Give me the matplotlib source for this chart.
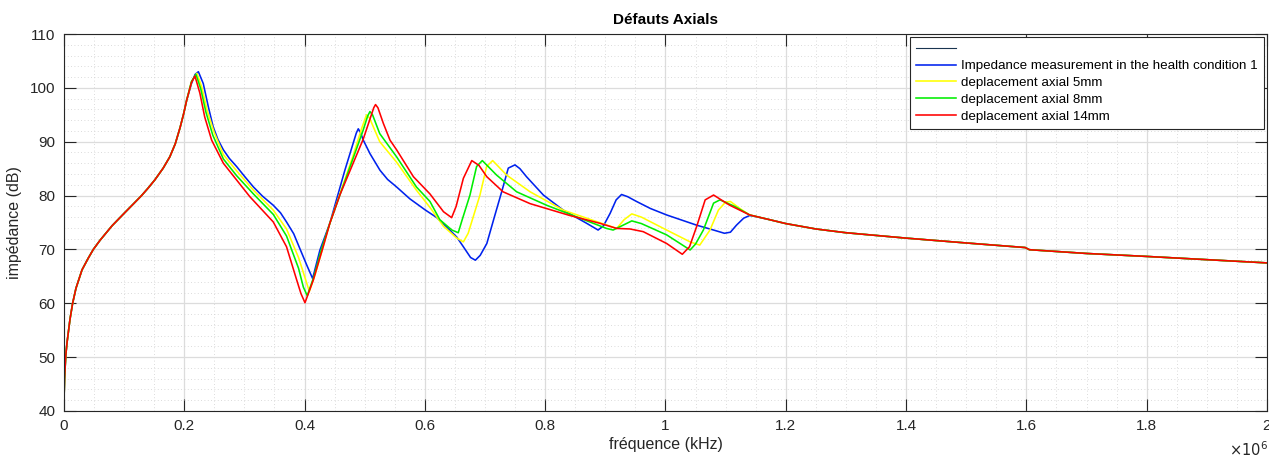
import numpy as np
import matplotlib
matplotlib.use("Agg")
import matplotlib.pyplot as plt
from matplotlib.ticker import MultipleLocator, FuncFormatter

plt.rcParams['font.family'] = ['Liberation Sans', 'DejaVu Sans']

# frequencies in MHz (axis is x10^6), impedance in dB
head_f = [0, 0.001, 0.003, 0.005, 0.01, 0.0144, 0.02, 0.03, 0.04, 0.0488, 0.06,
          0.08, 0.1, 0.115, 0.129, 0.14, 0.151, 0.165, 0.176, 0.185, 0.193, 0.199, 0.204]
head_v = [41.5, 46, 50.3, 52.6, 57, 60, 62.8, 66.2, 68.3, 70, 71.7,
          74.4, 76.7, 78.4, 80, 81.4, 82.9, 85.1, 87.2, 89.6, 92.6, 95.2, 97.7]

tail_f = [1.2, 1.25, 1.3, 1.4, 1.5, 1.598, 1.605, 1.7, 1.8, 1.9, 2.0]
tail_v = [74.8, 73.8, 73.1, 72.1, 71.2, 70.35, 69.95, 69.25, 68.7, 68.1, 67.5]

blue_f = [0.212, 0.218, 0.2235, 0.2316, 0.240, 0.248, 0.256, 0.265, 0.275, 0.287, 0.30,
          0.315, 0.33, 0.348, 0.36, 0.37, 0.382, 0.392, 0.404, 0.4134, 0.4256, 0.442,
          0.453, 0.467, 0.478, 0.486, 0.4893, 0.493, 0.4976, 0.5087, 0.5254, 0.538, 0.553,
          0.575, 0.601, 0.62, 0.636, 0.653, 0.664, 0.676, 0.684, 0.692, 0.703, 0.715,
          0.7277, 0.7387, 0.7498, 0.758, 0.769, 0.797, 0.830, 0.869, 0.888, 0.897, 0.908,
          0.918, 0.927, 0.937, 0.952, 0.975, 1.002, 1.052, 1.08, 1.098, 1.108, 1.118,
          1.130, 1.140, 1.150, 1.174]
blue_v = [100.8, 102.5, 103, 100.8, 96.5, 92.8, 90.4, 88.5, 86.9, 85.4, 83.6,
          81.6, 79.9, 78.2, 76.8, 75.1, 72.9, 70.2, 67, 64.6, 69.9, 74.85,
          79.2, 84.7, 88.7, 91.6, 92.4, 91.7, 90.3, 87.8, 84.7, 83.0, 81.6,
          79.4, 77.3, 75.9, 74.2, 72.3, 70.5, 68.5, 68.0, 68.9, 71.1, 75.8,
          80.7, 85.1, 85.7, 85.0, 83.5, 80.1, 77.3, 74.85, 73.6, 74.4, 76.7,
          79.2, 80.2, 79.8, 78.9, 77.6, 76.4, 74.5, 73.6, 73.0, 73.2, 74.5,
          75.8, 76.3, 76.1, 75.5]

yellow_f = [0.212, 0.221, 0.229, 0.238, 0.2495, 0.265, 0.287, 0.315, 0.348, 0.37,
            0.39, 0.40, 0.408, 0.418, 0.43, 0.442, 0.46, 0.48, 0.495, 0.503,
            0.508, 0.525, 0.553, 0.586, 0.6085, 0.631, 0.652, 0.664, 0.672, 0.6916, 0.7027,
            0.7127, 0.736, 0.775, 0.830, 0.869, 0.919, 0.931, 0.944, 0.96, 1.002,
            1.041, 1.057, 1.074, 1.088, 1.1, 1.108, 1.125, 1.14, 1.174]
yellow_v = [101.1, 102.7, 100.2, 95.8, 91.8, 87.6, 84.6, 81, 77.3, 73.8,
            68.5, 65, 62.2, 65.5, 70.2, 74.85, 80.7, 87.2, 92.5, 95,
            94.4, 90, 86.2, 81.0, 77.8, 74.3, 72.2, 71.4, 73, 80.1, 85.4,
            86.5, 83.8, 80.7, 77.3, 75.8, 73.9, 75.5, 76.6, 76.0, 73.6,
            71.4, 70.8, 73.6, 77.3, 78.8, 78.9, 77.5, 76.4, 75.5]

green_f = [0.212, 0.2195, 0.2275, 0.236, 0.2475, 0.265, 0.287, 0.315, 0.348, 0.37,
           0.39, 0.398, 0.4045, 0.415, 0.428, 0.442, 0.46, 0.48, 0.497, 0.505,
           0.5087, 0.513, 0.525, 0.553, 0.586, 0.6085, 0.625, 0.645, 0.6555, 0.662, 0.675,
           0.686, 0.6955, 0.7193, 0.7526, 0.8025, 0.858, 0.902, 0.913, 0.935, 0.944,
           0.96, 1.002, 1.041, 1.05, 1.063, 1.08, 1.0906, 1.115, 1.140, 1.174]
green_v = [101.2, 102.5, 99.8, 95.5, 91.2, 86.8, 83.7, 80.3, 76.5, 72.5,
           66.5, 63, 61.4, 64.8, 70, 74.85, 80.5, 86.7, 92, 94.8,
           95.6, 95.0, 91.5, 87.2, 81.6, 78.9, 75.5, 73.6, 73.1, 75.5, 80.1,
           85.4, 86.5, 83.8, 80.7, 78.2, 75.8, 73.9, 73.6, 74.8, 75.3,
           74.8, 72.7, 69.9, 71, 73.6, 78.6, 79.2, 78, 76.4, 75.5]

red_f = [0.212, 0.2178, 0.226, 0.234, 0.2455, 0.265, 0.287, 0.309, 0.348, 0.37,
         0.387, 0.394, 0.4007, 0.4145, 0.431, 0.442, 0.459, 0.4755, 0.4976, 0.509,
         0.515, 0.518, 0.522, 0.531, 0.542, 0.553, 0.581, 0.6085, 0.631, 0.6445,
         0.652, 0.664, 0.678, 0.69, 0.703, 0.730, 0.775, 0.841, 0.891, 0.919,
         0.941, 0.963, 1.002, 1.028, 1.04, 1.052, 1.066, 1.08, 1.107, 1.140, 1.174]
red_v = [101.0, 102.2, 99, 94.6, 90.3, 86, 82.9, 79.8, 75.1, 70.5,
         64.3, 61.8, 60.1, 64.3, 70.5, 74.85, 80.2, 84.6, 90.5, 94.3,
         96.3, 96.9, 96.3, 93.4, 90.3, 88.5, 83.5, 80.3, 77.0, 75.9,
         78, 83.2, 86.5, 85.6, 83.5, 80.7, 78.5, 76.3, 74.85, 73.9,
         73.8, 73.3, 71.1, 69.1, 70.5, 74.3, 79.2, 80.1, 78.2, 76.4, 75.5]

labels = ['Impedance measurement in the health condition 1', 'deplacement axial 5mm',
          'deplacement axial 8mm', 'deplacement axial 14mm']
colors = ['#0022EE', '#FFFF00', '#00EE00', '#FF0000']

fig = plt.figure(figsize=(12.69, 4.61), dpi=100)
ax = fig.add_axes([0.0504, 0.1085, 0.948, 0.8177])

ax.plot([], [], color='#1a3550', lw=0.8, label=' ')
series = [(blue_f, blue_v), (yellow_f, yellow_v), (green_f, green_v), (red_f, red_v)]
for (f, v), c, lab in zip(series, colors, labels):
    ff = np.array(head_f + f + tail_f) * 1e6
    vv = np.array(head_v + v + tail_v)
    ax.plot(ff, vv, color=c, lw=1.15, label=lab, solid_joinstyle='round')

ax.set_xlim(0, 2e6)
ax.set_ylim(40, 110)
ax.xaxis.set_major_locator(MultipleLocator(0.2e6))
ax.xaxis.set_minor_locator(MultipleLocator(0.05e6))
ax.yaxis.set_major_locator(MultipleLocator(10))
ax.yaxis.set_minor_locator(MultipleLocator(2))
ax.xaxis.set_major_formatter(FuncFormatter(lambda x, p: '{:g}'.format(round(x / 1e6, 1))))

ax.grid(True, which='major', color='#dcdcdc', lw=0.9)
ax.grid(True, which='minor', color='#cfcfcf', lw=0.6, ls=(0, (1, 3)))
ax.set_axisbelow(True)
for s in ax.spines.values():
    s.set_color('#262626')
    s.set_linewidth(0.8)
ax.tick_params(which='major', direction='in', length=8.5, width=0.8, top=True, right=True,
               colors='#262626', labelsize=11, pad=6)
ax.tick_params(which='minor', length=0, top=True, right=True)

ax.set_title('Défauts Axials', fontsize=11, fontweight='bold', pad=7)
ax.set_xlabel('fréquence (kHz)', fontsize=11.5, color='#262626', labelpad=3)
ax.set_ylabel('impédance (dB)', fontsize=11.5, color='#262626', labelpad=6)
fig.text(0.9685, 0.010, r'$\times10^{6}$', fontsize=10.5, color='#262626')

leg = ax.legend(loc='upper right', fontsize=9.6, fancybox=False, framealpha=1,
                edgecolor='#262626', borderaxespad=0.25, handlelength=3.0,
                handletextpad=0.35, labelspacing=0.33, borderpad=0.45)
leg.get_frame().set_linewidth(0.8)

fig.savefig('out.png', dpi=100)
